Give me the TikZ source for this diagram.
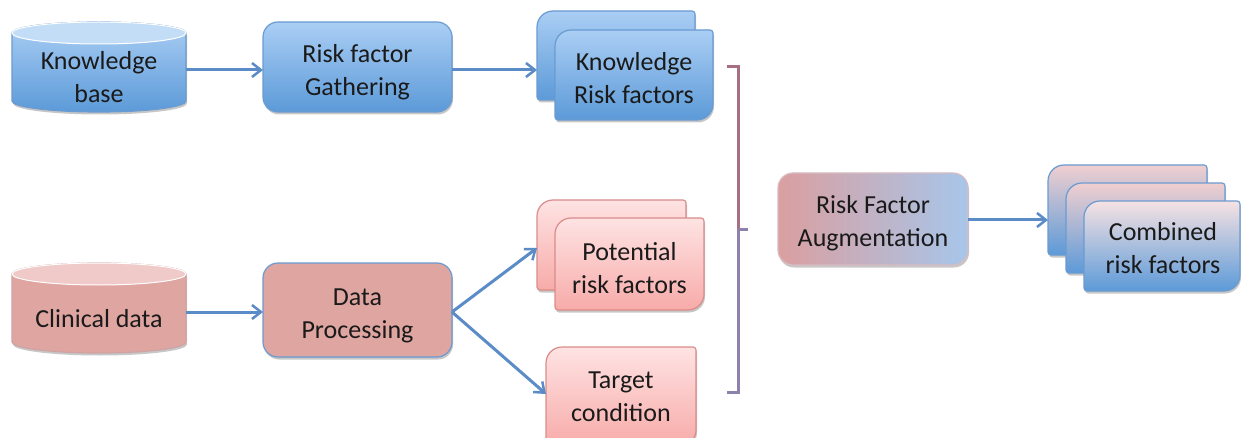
\documentclass[tikz,border=0pt]{standalone}
\usepackage{fontspec}
\setmainfont{Carlito}
\usetikzlibrary{arrows.meta,calc,shadows}
\definecolor{bluetop}{HTML}{AACEF4}
\definecolor{bluebot}{HTML}{5C9AD8}
\definecolor{blueline}{HTML}{6A9BD1}
\definecolor{arrowc}{HTML}{5B8CC8}
\definecolor{redbody}{HTML}{DFA5A1}
\definecolor{redtop}{HTML}{EFCAC8}
\definecolor{redline}{HTML}{CFA3A3}
\definecolor{pinktop}{HTML}{FEE3E3}
\definecolor{pinkbot}{HTML}{F7ABA9}
\definecolor{pinkline}{HTML}{D98C8A}
\definecolor{mixred}{HTML}{DA9FA0}
\definecolor{mixblue}{HTML}{A7C6EA}
\definecolor{mixline}{HTML}{D7BCC2}
\definecolor{combtop}{HTML}{F0CFD0}
\definecolor{combtopf}{HTML}{F6E2E3}
\definecolor{brackr}{HTML}{A86F84}
\definecolor{brackb}{HTML}{8C82AC}
\definecolor{txtc}{HTML}{1A1A1A}
% #1 style, #2 x1, #3 y1, #4 x2, #5 y2, #6 big radius
\newcommand\rdbox[6]{%
  \path[#1] (#2+#6,#3) -- (#4-3,#3) .. controls (#4-1.3,#3) and (#4,#3+1.3) .. (#4,#3+3)
    -- (#4,#5-#6) .. controls (#4,#5-0.45*#6) and (#4-0.45*#6,#5) .. (#4-#6,#5)
    -- (#2+3,#5) .. controls (#2+1.3,#5) and (#2,#5-1.3) .. (#2,#5-3)
    -- (#2,#3+#6) .. controls (#2,#3+0.45*#6) and (#2+0.45*#6,#3) .. (#2+#6,#3) -- cycle;}
% #1 style, #2 x1, #3 top y, #4 x2, #5 bottom y, #6 ry, #7 top fill
\newcommand\cyl[7]{%
  \pgfmathsetmacro\cxr{(#4-#2)/2}
  \path[#1] (#2,#3+#6) -- (#2,#5-#6) arc[start angle=180,end angle=360,x radius=\cxr pt,y radius=#6 pt]
     -- (#4,#3+#6) arc[start angle=0,end angle=180,x radius=\cxr pt,y radius=#6 pt] -- cycle;
  \path[fill=#7,draw=white,line width=1pt] ($(#2,#3+#6)!0.5!(#4,#3+#6)$) ellipse[x radius=\cxr pt,y radius=#6 pt];}
\tikzset{
  x=1pt,y=-1pt,
  txt/.style={font=\fontsize{26}{33}\selectfont,text=txtc,align=center,inner sep=0pt},
  hold/.style={inner sep=0pt,outer sep=0pt},
  arr/.style={draw=arrowc,line width=3pt,-{Straight Barb[length=9pt,width=14pt,line width=2.5pt]}},
  shd/.style={drop shadow={shadow xshift=1pt,shadow yshift=-2.5pt,opacity=0.22,fill=black}},
  bluebox/.style={shd,top color=bluetop,bottom color=bluebot,draw=blueline,line width=1.2pt},
  pinkbox/.style={shd,top color=pinktop,bottom color=pinkbot,draw=pinkline,line width=1.2pt},
  combbox/.style={shd,top color=combtop,bottom color=bluebot,draw=blueline,line width=1.2pt},
  combboxf/.style={shd,top color=combtopf,bottom color=bluebot,draw=blueline,line width=1.2pt},
  rbox/.style={rounded corners=15pt},
  brack/.style={line width=3pt}
}
\begin{document}
\begin{tikzpicture}
\useasboundingbox[fill=white] (0,0) rectangle (1241,438);
% ---- Knowledge base cylinder
\cyl{shd,top color=bluetop,bottom color=bluebot,draw=blueline,line width=1.2pt}{12}{22}{186}{112}{11}{bluetop!70!white}
\node[txt,hold,minimum width=174pt,minimum height=90pt] (kb) at (99,77) {Knowledge\\base};
% ---- Risk factor gathering
\path[bluebox,rbox] (263,22) rectangle (452,112);
\node[txt,hold,minimum width=189pt,minimum height=90pt] (rfg) at (357.5,72) {Risk factor\\Gathering};
% ---- Knowledge risk factors (stack)
\rdbox{bluebox}{537}{11}{695}{100}{16}
\node[hold,minimum width=158pt,minimum height=89pt] (krfb) at (616,55.5) {};
\rdbox{bluebox}{555}{30}{713}{120}{16}
\node[txt,hold,minimum width=158pt,minimum height=90pt] (krf) at (634,78) {Knowledge\\Risk factors};
% ---- Clinical data cylinder
\cyl{shd,fill=redbody,draw=redline,line width=1.2pt}{12}{263}{186}{353}{11}{redtop}
\node[txt,hold,minimum width=174pt,minimum height=90pt] (cd) at (99,319) {Clinical data};
% ---- Data processing
\path[shd,fill=redbody,draw=blueline,line width=1.2pt,rbox] (263,263) rectangle (452,357);
\node[txt,hold,minimum width=189pt,minimum height=94pt] (dp) at (357.5,316) {Data\\Processing};
% ---- Potential risk factors (stack)
\rdbox{pinkbox}{537}{200}{686}{290}{16}
\node[hold,minimum width=149pt,minimum height=90pt] (pfb) at (611.5,245) {};
\rdbox{pinkbox}{555}{218}{704}{310}{16}
\node[txt,hold,minimum width=149pt,minimum height=92pt] (prf) at (629.5,268) {Potential\\risk factors};
% ---- Target condition
\rdbox{pinkbox}{546}{347}{696}{446}{16}
\node[txt,hold,minimum width=150pt,minimum height=92pt] (tc) at (621,397) {Target\\condition};
% ---- Risk factor augmentation
\path[shd,left color=mixred,right color=mixblue,draw=mixline,line width=1.2pt,rbox] (778,173) rectangle (968,265);
\node[txt,hold,minimum width=190pt,minimum height=92pt] (rfa) at (873,223) {Risk Factor\\Augmentation};
% ---- Combined risk factors (stack)
\rdbox{combbox}{1048}{165}{1207}{255}{16}
\node[hold,minimum width=159pt,minimum height=90pt] (cb1) at (1127.5,210) {};
\rdbox{combbox}{1066}{183}{1225}{273}{16}
\node[hold,minimum width=159pt,minimum height=90pt] (cb2) at (1145.5,228) {};
\rdbox{combboxf}{1084}{201}{1240}{291}{16}
\node[txt,hold,minimum width=156pt,minimum height=90pt] (crf) at (1163,248) {Combined\\risk factors};
% ---- Bracket
\coordinate (b1) at (727,67);
\coordinate (bm) at (738,230);
\coordinate (bt) at (748,230);
\coordinate (b2) at (727,392);
\draw[brack,draw=brackr] (b1) -| (bm);
\draw[brack,draw=brackb] (bm) |- (b2);
\draw[brack,draw=brackb] (bm) -- (bt);
% ---- Arrows
\draw[arr] (kb.east |- 0,70) -- (rfg.west |- 0,70);
\draw[arr] (rfg.east |- 0,70) -- (krfb.west |- 0,70);
\draw[arr] (cd.east |- 0,312) -- (dp.west |- 0,312);
\draw[arr] (dp.east |- 0,312) -- ($(pfb.west)+(0,3)$);
\draw[arr] (dp.east |- 0,312) -- ($(tc.west)+(0,-3)$);
\draw[arr] (rfa.east |- 0,220) -- (cb1.west |- 0,220);
\end{tikzpicture}
\end{document}
